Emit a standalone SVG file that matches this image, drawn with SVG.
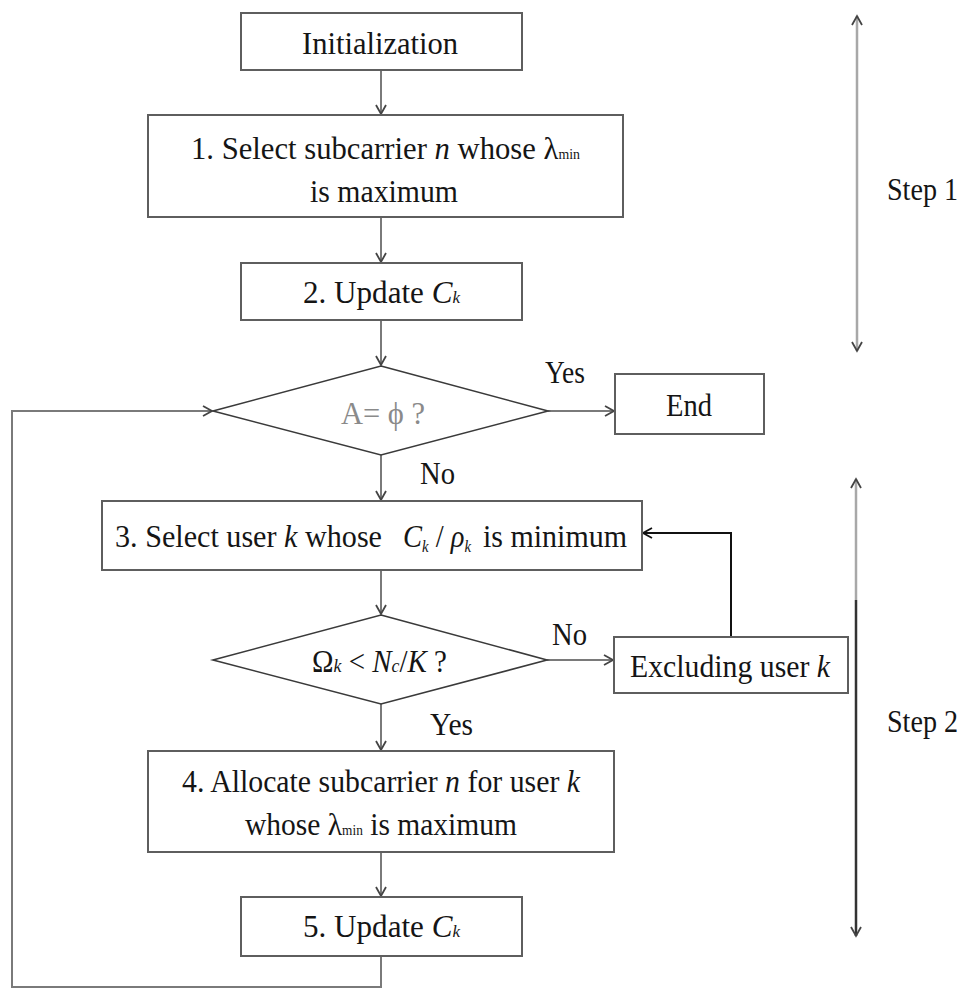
<svg xmlns="http://www.w3.org/2000/svg" width="964" height="990" viewBox="0 0 964 990">
<style>
  .box { fill: #ffffff; stroke: #5e5e5e; stroke-width: 2; }
  .dia { fill: #ffffff; stroke: #3a3a3a; stroke-width: 1.6; }
  .t { font-family: "Liberation Serif", "Times New Roman", serif; font-size: 31px; fill: #151515; }
  .it { font-style: italic; }
  .sub { font-size: 14px; }
  .ln { fill: none; stroke: #7a7a7a; stroke-width: 2; }
  .lnk { fill: none; stroke: #111111; stroke-width: 2; }
  .stepg { fill: none; stroke: #a8a8a8; stroke-width: 2.5; }
  .stepd { fill: none; stroke: #333333; stroke-width: 2.5; }
</style>
<defs>
  <marker id="ah" markerUnits="userSpaceOnUse" markerWidth="14" markerHeight="14" refX="10" refY="6" orient="auto-start-reverse" viewBox="0 0 14 12">
    <path d="M1,1 L10,6 L1,11" fill="none" stroke="#444444" stroke-width="1.8"/>
  </marker>
  <marker id="ahk" markerUnits="userSpaceOnUse" markerWidth="14" markerHeight="14" refX="10" refY="6" orient="auto-start-reverse" viewBox="0 0 14 12">
    <path d="M1,1 L10,6 L1,11" fill="none" stroke="#111111" stroke-width="1.8"/>
  </marker>
</defs>

<g id="connectors">
  <line class="ln" x1="381" y1="70" x2="381" y2="114" marker-end="url(#ah)"/>
  <line class="ln" x1="381" y1="217" x2="381" y2="262" marker-end="url(#ah)"/>
  <line class="ln" x1="381" y1="320" x2="381" y2="365" marker-end="url(#ah)"/>
  <line class="ln" x1="548" y1="411" x2="614" y2="411" marker-end="url(#ah)"/>
  <line class="ln" x1="381" y1="455" x2="381" y2="500" marker-end="url(#ah)"/>
  <line class="ln" x1="381" y1="570" x2="381" y2="614" marker-end="url(#ah)"/>
  <line class="ln" x1="547" y1="660" x2="613" y2="660" marker-end="url(#ah)"/>
  <polyline class="lnk" points="731,637 731,533 643,533" marker-end="url(#ahk)"/>
  <line class="ln" x1="381" y1="704" x2="381" y2="750" marker-end="url(#ah)"/>
  <line class="ln" x1="381" y1="852" x2="381" y2="896" marker-end="url(#ah)"/>
  <polyline class="ln" points="381,956 381,987 12,987 12,411 212,411" marker-end="url(#ah)"/>
  <line class="stepg" x1="857" y1="16" x2="857" y2="351" marker-start="url(#ah)" marker-end="url(#ah)"/>
  <line class="stepg" x1="856" y1="479" x2="856" y2="600" marker-start="url(#ah)"/>
  <line class="stepd" x1="856" y1="600" x2="856" y2="936" marker-end="url(#ah)"/>
</g>

<g id="init">
  <rect class="box" x="241" y="13" width="281" height="57"/>
  <text class="t" x="302" y="54" textLength="156" lengthAdjust="spacingAndGlyphs">Initialization</text>
</g>

<g id="step1box">
  <rect class="box" x="148" y="115" width="475" height="102"/>
  <text class="t" x="191" y="159" textLength="389" lengthAdjust="spacingAndGlyphs">1.  Select subcarrier <tspan class="it">n</tspan> whose λ<tspan class="sub">min</tspan></text>
  <text class="t" x="310" y="202" textLength="148" lengthAdjust="spacingAndGlyphs">is maximum</text>
</g>

<g id="update1">
  <rect class="box" x="241" y="263" width="281" height="57"/>
  <text class="t" x="303" y="303" textLength="157" lengthAdjust="spacingAndGlyphs">2.  Update <tspan class="it">C</tspan><tspan class="it" font-size="17">k</tspan></text>
</g>

<g id="decisionA">
  <polygon class="dia" points="381,366 548,411 381,455 213,411"/>
  <text class="t" x="341" y="424" style="fill:#8a8a8a" textLength="84" lengthAdjust="spacingAndGlyphs">A= ϕ ?</text>
</g>

<g id="labelYes1"><text class="t" x="545" y="383" textLength="40" lengthAdjust="spacingAndGlyphs">Yes</text></g>

<g id="end">
  <rect class="box" x="615" y="374" width="149" height="60"/>
  <text class="t" x="666" y="416" textLength="46" lengthAdjust="spacingAndGlyphs">End</text>
</g>

<g id="labelNo1"><text class="t" x="420" y="484" textLength="35" lengthAdjust="spacingAndGlyphs">No</text></g>

<g id="selectUser">
  <rect class="box" x="102" y="501" width="540" height="69"/>
  <text class="t" x="115" y="547" textLength="267" lengthAdjust="spacingAndGlyphs">3.  Select user <tspan class="it">k</tspan> whose</text>
  <text class="t" x="403" y="547" textLength="68" lengthAdjust="spacingAndGlyphs"><tspan class="it">C</tspan><tspan class="it" font-size="16" dy="5">k</tspan><tspan dy="-5"> / </tspan><tspan class="it">ρ</tspan><tspan class="it" font-size="16" dy="5">k</tspan></text>
  <text class="t" x="483" y="547" textLength="144" lengthAdjust="spacingAndGlyphs">is minimum</text>
</g>

<g id="decisionOmega">
  <polygon class="dia" points="381,615 547,660 381,704 213,660"/>
  <text class="t" x="312" y="672" textLength="135" lengthAdjust="spacingAndGlyphs">Ω<tspan class="it" font-size="19">k</tspan> &lt; <tspan class="it">N</tspan><tspan class="it" font-size="19">c</tspan>/<tspan class="it">K</tspan> ?</text>
</g>

<g id="labelNo2"><text class="t" x="552" y="645" textLength="35" lengthAdjust="spacingAndGlyphs">No</text></g>

<g id="exclude">
  <rect class="box" x="614" y="637" width="234" height="56"/>
  <text class="t" x="630" y="677" textLength="200" lengthAdjust="spacingAndGlyphs">Excluding user <tspan class="it">k</tspan></text>
</g>

<g id="labelYes2"><text class="t" x="430" y="735" textLength="43" lengthAdjust="spacingAndGlyphs">Yes</text></g>

<g id="allocate">
  <rect class="box" x="148" y="751" width="466" height="101"/>
  <text class="t" x="182" y="792" textLength="398" lengthAdjust="spacingAndGlyphs">4.  Allocate subcarrier <tspan class="it">n</tspan> for user <tspan class="it">k</tspan></text>
  <text class="t" x="245" y="835" textLength="272" lengthAdjust="spacingAndGlyphs">whose λ<tspan class="sub">min</tspan> is maximum</text>
</g>

<g id="update2">
  <rect class="box" x="241" y="897" width="281" height="59"/>
  <text class="t" x="303" y="937" textLength="157" lengthAdjust="spacingAndGlyphs">5.  Update <tspan class="it">C</tspan><tspan class="it" font-size="17">k</tspan></text>
</g>

<g id="step1label"><text class="t" x="887" y="200" textLength="71" lengthAdjust="spacingAndGlyphs">Step 1</text></g>
<g id="step2label"><text class="t" x="887" y="732" textLength="71" lengthAdjust="spacingAndGlyphs">Step 2</text></g>
</svg>
